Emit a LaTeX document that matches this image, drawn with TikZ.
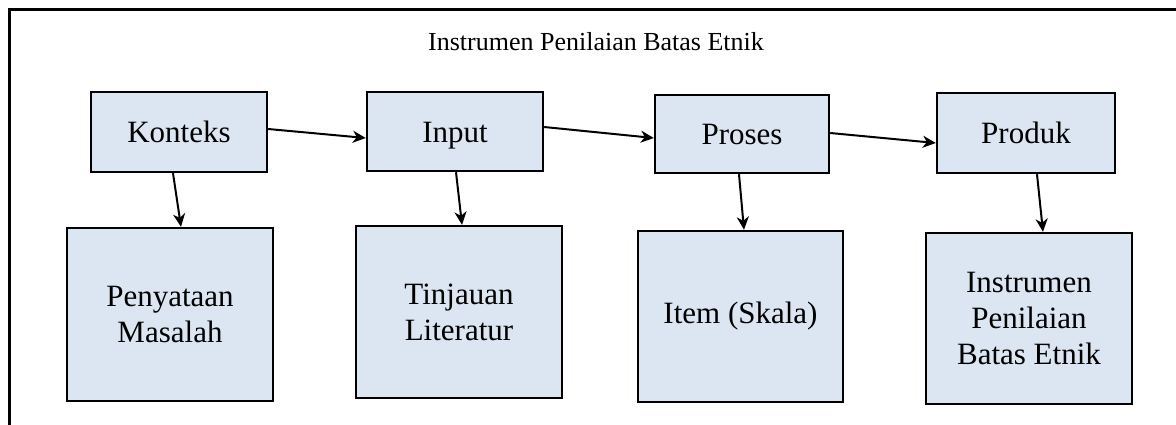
\documentclass[tikz,border=0pt]{standalone}
\usepackage{fontspec}
\setmainfont{Liberation Serif}
\usetikzlibrary{arrows.meta}
\definecolor{boxfill}{HTML}{DCE6F2}
\tikzset{
  box/.style={draw=black, line width=2.4pt, fill=boxfill, inner sep=0pt, align=center,
    font=\fontsize{31}{36}\selectfont},
  topbox/.style={box, text height=21pt, text depth=0pt},
  conn/.style={line width=2pt, -{Stealth[length=13pt, width=12pt, inset=4pt]}},
}
\begin{document}
\begin{tikzpicture}[x=1pt, y=-1pt]
\useasboundingbox (0,0) rectangle (1176,424);
\begin{scope}
\clip (0,0) rectangle (1176,424);
\draw[line width=3pt] (9.5,430) -- (9.5,9.5) -- (1185,9.5);
\end{scope}
\node[font=\fontsize{26}{31}\selectfont] (title) at (596,42) {Instrumen Penilaian Batas Etnik};

\node[topbox, minimum width=176pt, minimum height=80pt] (konteks) at (179,132) {Konteks};
\node[topbox, minimum width=176pt, minimum height=79pt] (input) at (455,131.5) {Input};
\node[topbox, minimum width=174pt, minimum height=78pt] (proses) at (742,134) {Proses};
\node[topbox, minimum width=178pt, minimum height=80pt] (produk) at (1026,133) {Produk};

\node[box, minimum width=206pt, minimum height=173pt] (penyataan) at (170,314.5) {Penyataan\\Masalah};
\node[box, minimum width=206pt, minimum height=172pt] (tinjauan) at (459,312) {Tinjauan\\Literatur};
\node[box, minimum width=205pt, minimum height=171pt] (item) at (740.5,316.5) {Item (Skala)};
\node[box, minimum width=206pt, minimum height=171pt] (instrumen) at (1029,318.5) {Instrumen\\Penilaian\\Batas Etnik};

\draw[conn] ([yshift=3pt]konteks.east) -- ([yshift=-6.5pt]input.west);
\draw[conn] ([yshift=4.5pt]input.east) -- ([yshift=-4pt]proses.west);
\draw[conn] ([yshift=1pt]proses.east) -- ([yshift=-10pt]produk.west);

\draw[conn] ([xshift=-6pt]konteks.south) -- ([xshift=11pt]penyataan.north);
\draw[conn] ([xshift=1pt]input.south) -- ([xshift=3pt]tinjauan.north);
\draw[conn] ([xshift=-3pt]proses.south) -- ([xshift=3.5pt]item.north);
\draw[conn] ([xshift=11pt]produk.south) -- ([xshift=14pt]instrumen.north);
\end{tikzpicture}
\end{document}
